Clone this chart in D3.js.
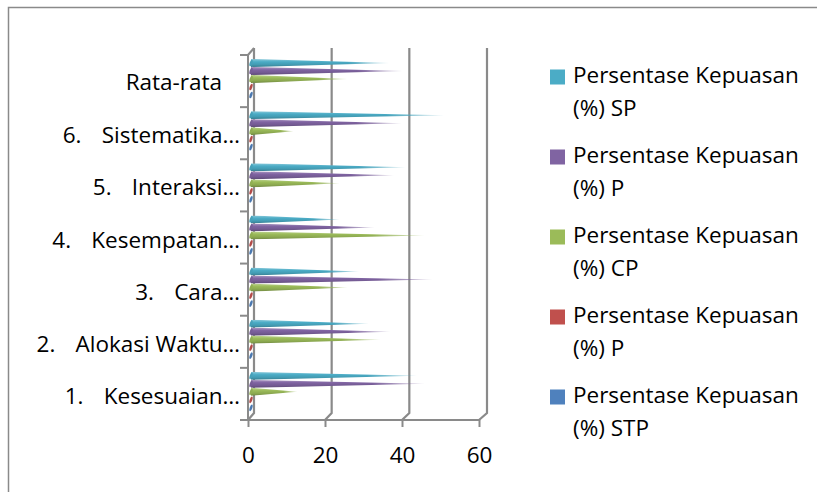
<!DOCTYPE html>
<html>
<head>
<meta charset="utf-8">
<script src="https://cdn.jsdelivr.net/npm/d3@7"></script>
<style>
  html, body { margin: 0; padding: 0; background: #fff; }
  svg { display: block; }
  text { font-family: "Open Sans", "Noto Sans", sans-serif; fill: #000; }
</style>
</head>
<body>
<svg id="chart" width="817" height="492"></svg>
<script>
// Categories, top to bottom as drawn
const categories = ["Rata-rata", "6. Sistematika…", "5. Interaksi…", "4. Kesempatan…",
                    "3. Cara…", "2. Alokasi Waktu…", "1. Kesesuaian…"];
const catNumbers = ["", "6.", "5.", "4.", "3.", "2.", "1."];
const catNames   = ["Rata-rata", "Sistematika…", "Interaksi…", "Kesempatan…",
                    "Cara…", "Alokasi Waktu…", "Kesesuaian…"];

// Series, top to bottom inside each category
const seriesNames = ["Persentase Kepuasan (%) SP", "Persentase Kepuasan (%) P",
                     "Persentase Kepuasan (%) CP", "Persentase Kepuasan (%) P",
                     "Persentase Kepuasan (%) STP"];
const seriesShort = ["(%) SP", "(%) P", "(%) CP", "(%) P", "(%) STP"];
const seriesColors = ["#4BACC6", "#8064A2", "#9BBB59", "#C0504D", "#4F81BD"];

// Values per series, in the category order above
const valSP  = [35.75, 50, 40, 23, 28, 30.5, 43];
const valP   = [39.3, 39, 37, 32, 47, 36, 45];
const valCP  = [24.9, 11, 23, 45, 25, 33.5, 12];
const valP2  = [0, 0, 0, 0, 0, 0, 0];
const valSTP = [0, 0, 0, 0, 0, 0, 0];
const seriesValues = [valSP, valP, valCP, valP2, valSTP];

const xTicks = [0, 20, 40, 60];

const FONT = "22.5px";
const svg = d3.select("#chart");
const defs = svg.append("defs");
const gray = "#8a8a8a";

// outer chart frame
svg.append("rect")
  .attr("x", 8.5).attr("y", 7.5).attr("width", 900).attr("height", 600)
  .attr("fill", "none").attr("stroke", gray).attr("stroke-width", 1.5);

// 3D depth offset between the front floor edge and the back wall
const dx = 6, dy = -7;
const yTop = 55, yBottom = 420;

const xFront = d3.scaleLinear().domain([0, 60]).range([248, 479]);
const xBack  = d3.scaleLinear().domain([0, 60]).range([254, 487]);
const xBar   = d3.scaleLinear().domain([0, 60]).range([251, 483]);

const yCat = d3.scaleBand().domain(categories).range([yTop, yBottom]);
const ySer = d3.scaleBand().domain(d3.range(seriesNames.length))
  .range([4, 44]);

// back wall gridlines with their diagonal run to the floor
const grid = svg.append("g");
xTicks.forEach(t => {
  grid.append("path")
    .attr("d", `M${xBack(t)},${yTop + dy} L${xBack(t)},${yBottom + dy} L${xFront(t)},${yBottom}`)
    .attr("fill", "none").attr("stroke", gray).attr("stroke-width", 2.2);
});
// left wall top edge
grid.append("path")
  .attr("d", `M${xFront(0)},${yTop} L${xBack(0)},${yTop + dy}`)
  .attr("fill", "none").attr("stroke", gray).attr("stroke-width", 2);

// category axis line and boundary ticks
const catAxis = svg.append("g");
catAxis.append("line")
  .attr("x1", xFront(0)).attr("x2", xFront(0))
  .attr("y1", yTop).attr("y2", yBottom)
  .attr("stroke", gray).attr("stroke-width", 2);
const bounds = categories.map(c => yCat(c)).concat([yBottom]);
catAxis.selectAll("line.tick").data(bounds).join("line")
  .attr("class", "tick")
  .attr("x1", xFront(0) - 8).attr("x2", xFront(0))
  .attr("y1", d => d).attr("y2", d => d)
  .attr("stroke", gray).attr("stroke-width", 2);

// value axis on the front floor edge
const axis = d3.axisBottom(xFront).tickValues(xTicks).tickSize(7).tickPadding(20);
const axG = svg.append("g").attr("transform", `translate(0,${yBottom})`).call(axis);
axG.select(".domain").attr("d", `M240,0H${xFront(60)}`)
  .attr("stroke", gray).attr("stroke-width", 2);
axG.selectAll(".tick line").attr("stroke", gray).attr("stroke-width", 2);
axG.selectAll(".tick text")
  .style("font-family", "'Open Sans', 'Noto Sans', sans-serif")
  .style("font-size", FONT).attr("fill", "#000");

// gradients: shading across each cone, and a fade toward the tip
seriesColors.forEach((c, i) => {
  const g = defs.append("linearGradient").attr("id", "shade" + i)
    .attr("x1", 0).attr("y1", 0).attr("x2", 0).attr("y2", 1);
  const base = d3.color(c);
  g.append("stop").attr("offset", "0%").attr("stop-color", d3.interpolateRgb(c, "#fff")(0.35));
  g.append("stop").attr("offset", "35%").attr("stop-color", base.formatHex());
  g.append("stop").attr("offset", "70%").attr("stop-color", base.darker(0.3).formatHex());
  g.append("stop").attr("offset", "100%").attr("stop-color", base.darker(0.9).formatHex());
});
const fade = defs.append("linearGradient").attr("id", "tipFade")
  .attr("x1", 0).attr("y1", 0).attr("x2", 1).attr("y2", 0);
fade.append("stop").attr("offset", "0%").attr("stop-color", "#fff");
fade.append("stop").attr("offset", "70%").attr("stop-color", "#fff");
fade.append("stop").attr("offset", "100%").attr("stop-color", "#fff").attr("stop-opacity", 0.25);
defs.append("mask").attr("id", "tipMask")
  .attr("maskContentUnits", "objectBoundingBox")
  .append("rect").attr("width", 1).attr("height", 1).attr("fill", "url(#tipFade)");

// cones
const coneH = 8;
const bars = svg.append("g");
categories.forEach((cat, ci) => {
  seriesValues.forEach((vals, si) => {
    const v = vals[ci];
    const cy = yCat(cat) + ySer(si) + ySer.bandwidth() / 2;
    const x0 = xBar(0);
    if (v > 0) {
      bars.append("path")
        .attr("d", `M${x0},${cy - coneH / 2} L${xBar(v)},${cy} L${x0},${cy + coneH / 2} Z`)
        .attr("fill", `url(#shade${si})`)
        .attr("mask", "url(#tipMask)");
    }
    // base of the cone
    bars.append("ellipse")
      .attr("cx", x0).attr("cy", cy)
      .attr("rx", 1.3).attr("ry", coneH / 2 - 0.5)
      .attr("transform", `rotate(18,${x0},${cy})`)
      .attr("fill", d3.color(seriesColors[si]).darker(0.2).formatHex());
  });
});

// category labels: number and name, right aligned
const labG = svg.append("g").style("font-size", FONT);
categories.forEach((cat, ci) => {
  const cy = yCat(cat) + yCat.bandwidth() / 2 + (ci === 0 ? 3 : 4);
  const endX = ci === 0 ? 222 : 240;
  const name = labG.append("text")
    .attr("x", endX).attr("y", cy)
    .attr("text-anchor", "end").attr("dominant-baseline", "middle")
    .text(catNames[ci]);
  if (catNumbers[ci]) {
    const w = name.node().getComputedTextLength();
    labG.append("text")
      .attr("x", endX - w - 39).attr("y", cy)
      .attr("dominant-baseline", "middle")
      .text(catNumbers[ci]);
  }
});

// legend
const leg = svg.append("g").style("font-size", FONT);
seriesNames.forEach((s, i) => {
  const y1 = 77 + 80 * i;
  leg.append("rect")
    .attr("x", 550).attr("y", y1 - 7.5).attr("width", 15).attr("height", 15)
    .attr("fill", seriesColors[i]);
  leg.append("text").attr("x", 573).attr("y", y1)
    .attr("dominant-baseline", "middle").text("Persentase Kepuasan");
  leg.append("text").attr("x", 573).attr("y", y1 + 33)
    .attr("dominant-baseline", "middle").text(seriesShort[i]);
});
</script>
</body>
</html>
